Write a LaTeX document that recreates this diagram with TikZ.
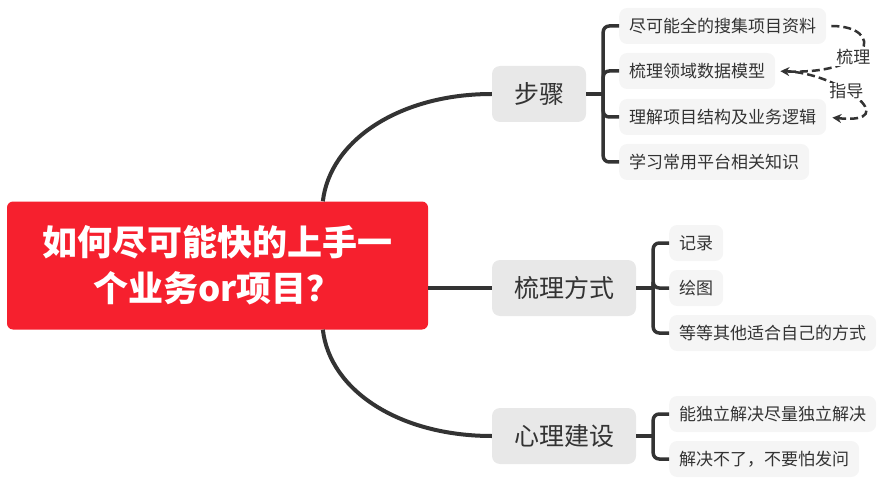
\documentclass[tikz,border=0pt]{standalone}
\usepackage{fontspec}
\newfontfamily\cjk{Noto Sans CJK SC}
\usetikzlibrary{arrows.meta,calc}

\definecolor{rootred}{HTML}{F6202E}
\definecolor{linegray}{HTML}{333333}
\definecolor{branchgray}{HTML}{E8E8E8}
\definecolor{leafgray}{HTML}{F5F5F5}

\tikzset{
	root/.style={fill=rootred, text=white, rounded corners=6pt, minimum width=421pt, minimum height=128pt, align=center, font=\cjk\bfseries\fontsize{35}{46}\selectfont},
	branch/.style={fill=branchgray, text=linegray, rounded corners=8pt, inner xsep=22pt, minimum height=56pt, font=\cjk\fontsize{25}{30}\selectfont},
	leaf/.style={fill=leafgray, text=linegray, rounded corners=8pt, inner xsep=10pt, minimum height=36pt, anchor=west, font=\cjk\fontsize{17}{20}\selectfont},
	link/.style={draw=linegray, line width=4pt},
	bracket/.style={draw=linegray, line width=3.5pt, rounded corners=6pt},
	relation/.style={draw=linegray, line width=2.5pt, dash pattern=on 8pt off 4pt, -{Stealth[length=9pt,width=9pt]}},
	rlabel/.style={fill=white, text=linegray, inner sep=1pt, font=\cjk\fontsize{17}{20}\selectfont}
}

\begin{document}
\begin{tikzpicture}[x=1pt,y=-1pt]
	\useasboundingbox (0,0) rectangle (892,484);
	% draw root and branches
	\node[root] (root) at (217.5,265.5) {如何尽可能快的上手一\\个业务or项目？};
	\node[branch] (steps) at (539,94) {步骤};
	\node[branch] (method) at (564,288) {梳理方式};
	\node[branch] (mind) at (564,436) {心理建设};
	% draw leaves
	\foreach \name/\x/\y/\txt in {s1/619/26/尽可能全的搜集项目资料, s2/619/71/梳理领域数据模型, s3/619/117/理解项目结构及业务逻辑, s4/619/162/学习常用平台相关知识, m1/669/243/记录, m2/669/288/绘图, m3/669/333/等等其他适合自己的方式, p1/669/414/能独立解决尽量独立解决, p2/669/459/解决不了，不要怕发问}
		\node[leaf] (\name) at (\x,\y) {\txt};
	% root to branches
	\draw[link] ($(root.north west)!0.75!(root.north east)$) .. controls (330,140) and (400,94) .. (steps.west);
	\draw[link] (method.west -| root.east) -- (method.west);
	\draw[link] ($(root.south west)!0.75!(root.south east)$) .. controls (330,391) and (400,436) .. (mind.west);
	% brackets
	\draw[bracket] (steps.east) -- ++(17,0) coordinate (j1);
	\foreach \n in {s1,s2,s3,s4}
		\draw[bracket] (j1) |- (\n.west);
	\draw[bracket] (method.east) -- ++(17,0) coordinate (j2);
	\foreach \n in {m1,m2,m3}
		\draw[bracket] (j2) |- (\n.west);
	\draw[bracket] (mind.east) -- ++(17,0) coordinate (j3);
	\foreach \n in {p1,p2}
		\draw[bracket] (j3) |- (\n.west);
	% relations
	\draw[relation, shorten <=5pt, shorten >=5pt] (s1.east) .. controls (885,26) and (875,75) .. (s2.east) node[rlabel, pos=0.6] {梳理};
	\draw[relation, shorten <=8pt, shorten >=6pt] (s2.east) .. controls (840,72) and (905,125) .. (s3.east) node[rlabel, pos=0.42] {指导};
\end{tikzpicture}
\end{document}
